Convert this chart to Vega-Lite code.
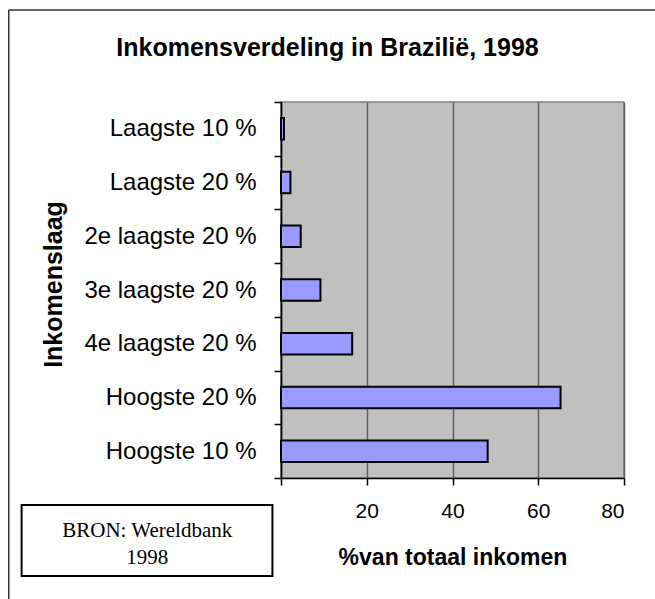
{
  "$schema": "https://vega.github.io/schema/vega-lite/v6.json",
  "autosize": "none",
  "width": 343,
  "height": 376,
  "padding": {"left": 281, "top": 102, "right": 31, "bottom": 121},
  "background": "white",
  "title": {
    "text": "Inkomensverdeling in Brazilië, 1998",
    "font": "Liberation Sans",
    "fontSize": 25,
    "fontWeight": "bold",
    "color": "black",
    "anchor": "middle",
    "frame": "group",
    "dx": -125,
    "offset": -52
  },
  "config": {
    "view": {"fill": "#C0C0C0", "stroke": "#808080", "strokeWidth": 1.5},
    "font": "Liberation Sans"
  },
  "data": {
    "values": [
      {"groep": "Laagste 10 %", "aandeel": 0.7},
      {"groep": "Laagste 20 %", "aandeel": 2.2},
      {"groep": "2e laagste 20 %", "aandeel": 4.6},
      {"groep": "3e laagste 20 %", "aandeel": 9.2},
      {"groep": "4e laagste 20 %", "aandeel": 16.6},
      {"groep": "Hoogste 20 %", "aandeel": 65.2},
      {"groep": "Hoogste 10 %", "aandeel": 48.2}
    ]
  },
  "layer": [
    {
      "mark": {"type": "bar", "fill": "#9999FF", "stroke": "black", "strokeWidth": 2, "height": {"band": 0.4}},
      "encoding": {
        "y": {
          "field": "groep",
          "type": "nominal",
          "sort": null,
          "scale": {"paddingInner": 0, "paddingOuter": 0},
          "axis": {
            "title": "Inkomenslaag",
            "titleFont": "Liberation Sans",
            "titleFontSize": 25,
            "titleFontWeight": "bold",
            "titleColor": "black",
            "titleX": -228,
            "titleY": 182,
            "titleAngle": -90,
            "titleAlign": "center",
            "titleBaseline": "middle",
            "labelFont": "Liberation Sans",
            "labelFontSize": 24,
            "labelColor": "black",
            "labelPadding": 18,
            "tickBand": "extent",
            "tickSize": 7,
            "tickColor": "black",
            "tickWidth": 1.5,
            "domainColor": "black",
            "domainWidth": 1.5,
            "grid": false
          }
        },
        "x": {
          "field": "aandeel",
          "type": "quantitative",
          "scale": {"domain": [0, 80], "nice": false},
          "axis": {
            "title": "%van totaal inkomen",
            "titleFont": "Liberation Sans",
            "titleFontSize": 23,
            "titleFontWeight": "bold",
            "titleColor": "black",
            "titlePadding": 25,
            "values": [0, 20, 40, 60, 80],
            "labelExpr": "datum.value == 0 ? '' : datum.label",
            "labelFont": "Liberation Sans",
            "labelFontSize": 21,
            "labelColor": "black",
            "labelPadding": 15,
            "tickSize": 7,
            "tickColor": "black",
            "tickWidth": 1.5,
            "domainColor": "black",
            "domainWidth": 1.5,
            "grid": true,
            "gridColor": "#606060",
            "gridWidth": 1.5,
            "gridOpacity": 1
          }
        }
      }
    },
    {
      "data": {"values": [{"bron": "BRON: Wereldbank\n1998"}]},
      "mark": {"type": "rect", "fill": "white", "stroke": "black", "strokeWidth": 2},
      "encoding": {
        "x": {"datum": -60.5},
        "x2": {"datum": -2},
        "y": {"value": 403},
        "y2": {"value": 474}
      }
    },
    {
      "data": {"values": [{"bron": "BRON: Wereldbank\n1998"}]},
      "mark": {"type": "text", "font": "Liberation Serif", "fontSize": 21, "color": "black", "lineBreak": "\n", "lineHeight": 27, "align": "center", "baseline": "middle"},
      "encoding": {
        "x": {"datum": -31.2},
        "y": {"value": 429},
        "text": {"field": "bron"}
      }
    },
    {
      "data": {"values": [{"rand": "links"}]},
      "mark": {"type": "rule", "color": "#333333", "strokeWidth": 1.5},
      "encoding": {
        "x": {"datum": -63.5},
        "y": {"value": -92},
        "y2": {"value": 497}
      }
    },
    {
      "data": {"values": [{"rand": "boven"}]},
      "mark": {"type": "rule", "color": "#333333", "strokeWidth": 1.5},
      "encoding": {
        "x": {"datum": -63.5},
        "x2": {"datum": 90},
        "y": {"value": -92}
      }
    }
  ]
}
